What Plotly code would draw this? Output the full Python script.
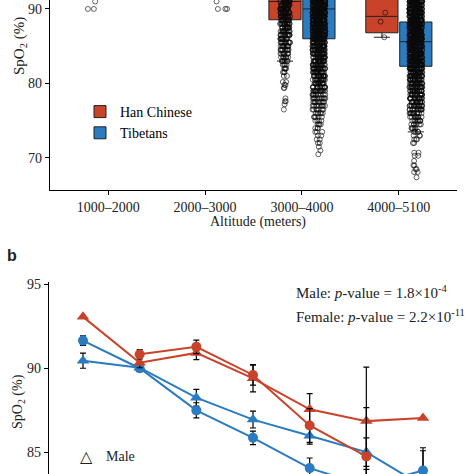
import plotly.graph_objects as go

# ---------------- Panel a: SpO2 by altitude (box plots) ----------------
altitude_groups = ["1000\u20132000", "2000\u20133000", "3000\u20134000", "4000\u20135100"]

# box statistics (upper parts are above the visible window)
han_box_cats = ["3000\u20134000", "4000\u20135100"]
han_q1 = [88.55, 86.8]
han_median = [91.0, 89.0]
han_q3 = [93.0, 92.0]
han_lowerfence = [83.0, 86.2]
han_upperfence = [97.0, 95.0]

tib_box_cats = ["3000\u20134000", "4000\u20135100"]
tib_q1 = [86.0, 82.3]
tib_median = [90.0, 85.6]
tib_q3 = [92.0, 88.25]
tib_lowerfence = [79.0, 73.5]
tib_upperfence = [98.0, 92.0]

# individual observations visible in the window (value, count)
han_1000_values = [91.0, 90.0]
han_1000_counts = [1, 2]
han_3000_values = [91.0, 90.5, 90.0, 89.5, 89.0, 88.5, 88.0, 87.5, 87.0, 86.5, 86.0, 85.5, 85.0,
                   84.5, 84.0, 83.5, 83.0, 82.5, 82.0, 81.5, 81.0, 80.2, 79.8, 79.4, 78.0, 77.6,
                   77.2, 76.5]
han_3000_counts = [22, 22, 22, 20, 20, 18, 18, 15, 15, 13, 13, 11, 11,
                   9, 9, 7, 6, 4, 4, 3, 2, 2, 2, 2, 1, 2,
                   1, 1]
han_4000_values = [89.5, 88.3, 86.2]
han_4000_counts = [1, 1, 1]

tib_2000_values = [91.0, 90.0]
tib_2000_counts = [1, 3]
tib_3000_values = [91.0, 90.5, 90.0, 89.5, 89.0, 88.5, 88.0, 87.5, 87.0, 86.5, 86.0, 85.5, 85.0,
                   84.5, 84.0, 83.5, 83.0, 82.5, 82.0, 81.5, 81.0, 80.5, 80.0, 79.5, 79.0, 78.5,
                   78.0, 77.5, 77.0, 76.5, 76.0, 75.5, 75.0, 74.5, 74.0, 73.5, 73.0, 72.5, 72.0,
                   71.5, 71.0, 70.5]
tib_3000_counts = [48, 48, 48, 45, 45, 42, 42, 38, 38, 35, 35, 32, 32,
                   29, 29, 26, 26, 22, 22, 19, 19, 16, 16, 14, 13, 11,
                   11, 9, 9, 7, 6, 5, 4, 4, 3, 3, 2, 2, 2,
                   1, 1, 1]
tib_4000_values = [91.0, 90.5, 90.0, 89.5, 89.0, 88.5, 88.0, 87.5, 87.0, 86.5, 86.0, 85.5, 85.0,
                   84.5, 84.0, 83.5, 83.0, 82.5, 82.0, 81.5, 81.0, 80.5, 80.0, 79.5, 79.0, 78.5,
                   78.0, 77.5, 77.0, 76.5, 76.0, 75.5, 75.0, 74.5, 74.0, 73.5, 73.0, 72.5, 72.0,
                   70.7, 70.3, 69.6, 69.0, 68.5, 68.1, 67.4]
tib_4000_counts = [48, 48, 48, 48, 48, 45, 45, 45, 45, 42, 42, 42, 42,
                   38, 38, 35, 35, 32, 32, 29, 29, 26, 26, 22, 22, 19,
                   19, 16, 16, 13, 12, 9, 8, 6, 5, 4, 3, 3, 2,
                   2, 2, 1, 2, 2, 2, 1]

# ---------------- Panel b: SpO2 trend by sex ----------------
altitude_level = [1, 2, 3, 4, 5, 6, 7]
han_male = [93.05, 90.33, 90.91, 89.4, 87.56, 86.86, 87.04]
han_male_err = [None, 0.3, 0.4, 0.8, 0.93, 3.2, None]
han_female = [None, 90.83, 91.27, 89.6, 86.6, 84.76, None]
han_female_err = [None, 0.28, 0.4, 0.6, 1.0, 2.9, None]
tib_male = [90.45, 90.03, 88.25, 86.95, 85.99, 85.02, 83.0]
tib_male_err = [0.45, 0.2, 0.5, 0.5, 0.5, 0.85, 2.1]
tib_female = [91.64, 90.0, 87.5, 85.87, 84.07, 83.0, 83.93]
tib_female_err = [0.28, 0.2, 0.45, 0.4, 0.6, 1.0, 1.35]

RED = "#C8432A"
BLUE = "#2A7BC0"
SERIF = "Liberation Serif, Times New Roman, serif"
TXT = "#222222"
W = H = 474


def expand(cat, values, counts):
    xs, ys = [], []
    for v, c in zip(values, counts):
        xs += [cat] * c
        ys += [v] * c
    return xs, ys


fig = go.Figure()

# boxes
fig.add_trace(go.Box(
    x=han_box_cats, q1=han_q1, median=han_median, q3=han_q3,
    lowerfence=han_lowerfence, upperfence=han_upperfence,
    name="Han Chinese", fillcolor=RED, line=dict(color="#222222", width=1),
    boxpoints=False, offsetgroup="han", xaxis="x", yaxis="y"))
fig.add_trace(go.Box(
    x=tib_box_cats, q1=tib_q1, median=tib_median, q3=tib_q3,
    lowerfence=tib_lowerfence, upperfence=tib_upperfence,
    name="Tibetans", fillcolor=BLUE, line=dict(color="#222222", width=1),
    boxpoints=False, offsetgroup="tib", xaxis="x", yaxis="y"))

# jittered points
hx, hy = [], []
for cat, vals, cnts in [(altitude_groups[0], han_1000_values, han_1000_counts),
                        (altitude_groups[2], han_3000_values, han_3000_counts),
                        (altitude_groups[3], han_4000_values, han_4000_counts)]:
    a, b = expand(cat, vals, cnts)
    hx += a
    hy += b
tx, ty = [], []
for cat, vals, cnts in [(altitude_groups[1], tib_2000_values, tib_2000_counts),
                        (altitude_groups[2], tib_3000_values, tib_3000_counts),
                        (altitude_groups[3], tib_4000_values, tib_4000_counts)]:
    a, b = expand(cat, vals, cnts)
    tx += a
    ty += b

for xs, ys, grp, jit in [(hx, hy, "han", 0.32), (tx, ty, "tib", 0.4)]:
    fig.add_trace(go.Box(
        x=xs, y=ys, offsetgroup=grp, boxpoints="all", jitter=jit, pointpos=0,
        fillcolor="rgba(0,0,0,0)", line=dict(color="rgba(0,0,0,0)", width=0),
        whiskerwidth=0,
        marker=dict(symbol="circle-open", size=5, color="rgba(10,10,10,0.7)",
                    line=dict(width=0.9)),
        showlegend=False, xaxis="x", yaxis="y", hoverinfo="skip"))

# panel b lines
for ys, err, col, sym, size in [
        (tib_male, tib_male_err, BLUE, "triangle-up", 11),
        (tib_female, tib_female_err, BLUE, "circle", 10),
        (han_male, han_male_err, RED, "triangle-up", 11),
        (han_female, han_female_err, RED, "circle", 10)]:
    fig.add_trace(go.Scatter(
        x=altitude_level, y=ys, mode="lines+markers",
        line=dict(color=col, width=2), marker=dict(symbol=sym, size=size, color=col),
        error_y=dict(type="data", array=err, color="black", thickness=1.2, width=3),
        showlegend=False, xaxis="x2", yaxis="y2"))

axis_common = dict(showline=True, linecolor="black", linewidth=1.2, ticks="outside",
                   ticklen=4, tickcolor="black", tickwidth=1.1, showgrid=False,
                   zeroline=False, automargin=False)

fig.update_layout(
    width=W, height=H,
    margin=dict(l=0, r=0, t=0, b=0),
    paper_bgcolor="white", plot_bgcolor="white",
    boxmode="group", boxgap=0.3, boxgroupgap=0.05,
    font=dict(family=SERIF, color="black", size=14),
    xaxis=dict(domain=[50 / W, 457 / W], type="category", categoryorder="array",
               categoryarray=altitude_groups, range=[-0.6, 3.6], anchor="y",
               tickfont=dict(family=SERIF, size=14, color=TXT), **axis_common),
    yaxis=dict(domain=[1 - 190 / H, 1], range=[65.7, 91.2], tickvals=[70, 80, 90],
               anchor="x", tickfont=dict(family=SERIF, size=14, color=TXT), **axis_common),
    xaxis2=dict(domain=[49 / W, 457 / W], range=[0.4, 7.6], anchor="y2", visible=False),
    yaxis2=dict(domain=[0, 1 - 281.5 / H], range=[83.72, 95.15], tickvals=[85, 90, 95],
                anchor="x2", tickfont=dict(family=SERIF, size=14, color=TXT), **axis_common),
    legend=dict(x=80 / W, y=1 - 96 / H, xanchor="left", yanchor="top",
                bgcolor="rgba(0,0,0,0)", font=dict(family=SERIF, size=14, color="black"),
                tracegroupgap=0),
    showlegend=True,
)


def note(text, x, y, size=14, family=SERIF, xanchor="center", angle=0):
    return dict(text=text, x=x / W, y=1 - y / H, xref="paper", yref="paper",
                xanchor=xanchor, yanchor="middle", textangle=angle, showarrow=False,
                font=dict(family=family, size=size, color=TXT))


ann = [
    note("Altitude (meters)", 258, 222),
    note("SpO<sub>2</sub> (%)", 20, 46, size=15, angle=-90),
    note("SpO<sub>2</sub> (%)", 18, 402, size=14, angle=-90),
    note("<b>b</b>", 12, 256, size=16, family="Liberation Sans, Arial, sans-serif"),
    note("Male: <i>p</i>-value = 1.8\u00d710<sup>-4</sup>", 294, 292, size=15, xanchor="left"),
    note("Female: <i>p</i>-value = 2.2\u00d710<sup>-11</sup>", 294, 316, size=15, xanchor="left"),
    note("\u25b3", 86, 456, size=16, family="DejaVu Sans"),
    note("Male", 104, 456, size=14, xanchor="left"),
    note("\u25cf", 86, 479, size=14, family="DejaVu Sans"),
    note("Female", 104, 479, size=14, xanchor="left"),
]
fig.update_layout(annotations=ann)

fig.write_html("out.html", config={"displayModeBar": False},
               post_script="document.body.style.margin='0';document.body.style.padding='0';")
